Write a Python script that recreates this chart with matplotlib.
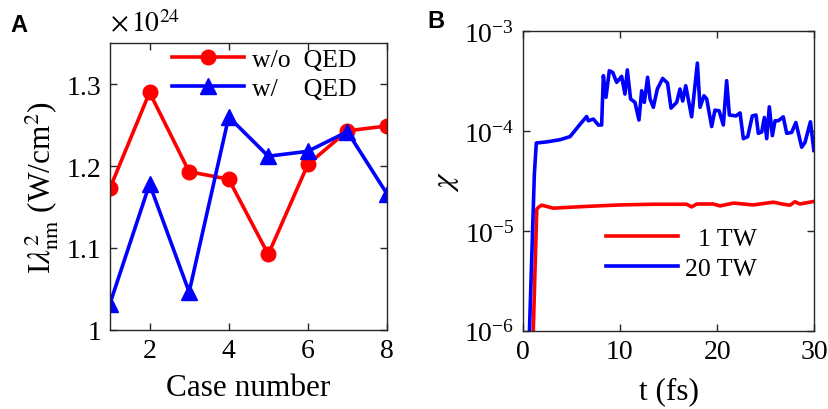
import matplotlib
matplotlib.use("Agg")
import matplotlib.pyplot as plt
from matplotlib.ticker import FormatStrFormatter, NullLocator, LogLocator

plt.rcParams["font.family"] = ["Liberation Serif", "DejaVu Serif"]
plt.rcParams["mathtext.fontset"] = "stix"

# panel A: intensity per case (units of 1e24 W/cm^2)
cases = [1, 2, 3, 4, 5, 6, 7, 8]
without_qed = [1.173, 1.290, 1.193, 1.184, 1.092, 1.202, 1.243, 1.249]
with_qed = [1.032, 1.178, 1.046, 1.260, 1.212, 1.218, 1.242, 1.166]

# panel B: chi vs time
t_1tw = [1.0, 1.45, 1.61, 1.95, 3.15, 6.58, 10.0, 13.44, 16.87, 17.38, 17.9,
         19.6, 20.3, 21.7, 23.7, 25.8, 26.8, 27.5, 28.0, 28.5, 29.9]
chi_1tw = [5e-7, 1.65e-5, 1.72e-5, 1.81e-5, 1.69e-5, 1.76e-5, 1.82e-5, 1.85e-5,
           1.85e-5, 1.74e-5, 1.86e-5, 1.86e-5, 1.78e-5, 1.90e-5, 1.82e-5, 1.94e-5,
           1.85e-5, 1.81e-5, 1.96e-5, 1.86e-5, 1.97e-5]

t_20tw = [0.6, 1.2, 1.4, 2.5, 3.84, 4.87, 5.9, 6.58, 6.75, 7.27, 7.78, 8.12, 8.3,
          8.57, 8.91, 9.26, 9.67, 10.18, 10.52, 10.76, 11.1, 11.55, 11.96, 12.24,
          12.51, 12.85, 13.1, 13.44, 13.85, 14.4, 14.9, 15.26, 15.84, 16.18, 16.46,
          16.77, 17.38, 17.97, 18.24, 18.65, 18.93, 19.44, 19.78, 20.2, 20.64,
          20.98, 21.26, 21.94, 22.36, 22.7, 23.15, 23.62, 24.0, 24.24, 24.59,
          24.86, 25.1, 25.37, 25.68, 25.96, 26.3, 26.8, 27.16, 27.67, 28.1, 28.7,
          29.04, 29.6, 29.95]
chi_20tw = [5e-7, 3.7e-5, 7.6e-5, 7.8e-5, 8.2e-5, 8.8e-5, 1.17e-4, 1.40e-4,
            1.27e-4, 1.32e-4, 1.15e-4, 1.15e-4, 3.59e-4, 2.18e-4, 4.03e-4,
            3.87e-4, 3.08e-4, 3.53e-4, 2.35e-4, 4.1e-4, 2.1e-4, 1.94e-4, 1.29e-4,
            2.54e-4, 1.94e-4, 3.46e-4, 2.1e-4, 1.73e-4, 2.64e-4, 3.37e-4, 3.03e-4,
            1.7e-4, 1.94e-4, 2.64e-4, 2.0e-4, 2.85e-4, 1.39e-4, 4.8e-4, 1.73e-4,
            2.26e-4, 2.1e-4, 1.11e-4, 1.62e-4, 1.6e-4, 1.15e-4, 3.2e-4, 1.45e-4,
            1.42e-4, 1.52e-4, 8.4e-5, 8.8e-5, 1.42e-4, 1.45e-4, 9.5e-5, 9.8e-5,
            1.37e-4, 8.4e-5, 1.75e-4, 9.0e-5, 1.27e-4, 1.27e-4, 1.39e-4, 9.5e-5,
            9.7e-5, 1.22e-4, 6.9e-5, 7.7e-5, 1.24e-4, 6.4e-5]

RED = "#ff0000"
BLUE = "#0000ff"
FRAME = "#262626"
TICK_FS = 20
LABEL_FS = 22.5
LEGEND_FS = 18.5


def style_axes(ax):
    for sp in ax.spines.values():
        sp.set_color(FRAME)
        sp.set_linewidth(1.0)
    ax.tick_params(direction="in", top=True, right=True, labelsize=TICK_FS,
                   colors=FRAME, labelcolor="black", length=5, width=1.0, pad=6)


fig = plt.figure(figsize=(8.29, 4.10), dpi=100)

# ---- panel A
axA = fig.add_axes([0.1327, 0.1934, 0.3341, 0.6986])
axA.plot(cases, without_qed, "-o", color=RED, lw=2.6, ms=10.5, label="w/o  QED")
axA.plot(cases, with_qed, "-^", color=BLUE, lw=2.6, ms=11.5, label="w/    QED")
axA.set_xlim(1, 8)
axA.set_ylim(1.0, 1.35)
axA.set_xticks([2, 4, 6, 8])
axA.set_yticks([1.0, 1.1, 1.2, 1.3])
axA.yaxis.set_major_formatter(FormatStrFormatter("%g"))
style_axes(axA)
axA.set_xlabel("Case number", fontsize=LABEL_FS, labelpad=7)
axA.set_ylabel(r"I$\lambda_{\rm nm}^2$ (W/cm$^2$)", fontsize=LABEL_FS, labelpad=4)
axA.text(0.0, 1.02, r"$\times\,10^{24}$", transform=axA.transAxes,
         fontsize=TICK_FS, ha="left", va="bottom")
axA.legend(loc="upper left", bbox_to_anchor=(0.225, 0.985), frameon=False,
           fontsize=LEGEND_FS, handlelength=2.8, handletextpad=0.3,
           labelspacing=0.25, borderpad=0, borderaxespad=0)

# ---- panel B
axB = fig.add_axes([0.6305, 0.1910, 0.3518, 0.7302])
axB.plot(t_1tw, chi_1tw, color=RED, lw=2.6, label="  1 TW")
axB.plot(t_20tw, chi_20tw, color=BLUE, lw=2.6, label="20 TW")
axB.set_yscale("log")
axB.set_xlim(0, 30)
axB.set_ylim(1e-6, 1e-3)
axB.set_xticks([0, 10, 20, 30])
axB.yaxis.set_major_locator(LogLocator(base=10, numticks=10))
axB.yaxis.set_minor_locator(NullLocator())
style_axes(axB)
axB.set_xlabel("t (fs)", fontsize=LABEL_FS, labelpad=9)
axB.set_ylabel(r"$\chi$", fontsize=LABEL_FS, labelpad=2)
axB.legend(loc="upper left", bbox_to_anchor=(0.285, 0.345), frameon=False,
           fontsize=LEGEND_FS, handlelength=2.8, handletextpad=0.3,
           labelspacing=0.25, borderpad=0, borderaxespad=0)

fig.text(0.012, 0.965, "A", fontsize=17, fontweight="bold",
         family="Liberation Sans", ha="left", va="top")
fig.text(0.516, 0.975, "B", fontsize=17, fontweight="bold",
         family="Liberation Sans", ha="left", va="top")

fig.savefig("out.png", dpi=100)
